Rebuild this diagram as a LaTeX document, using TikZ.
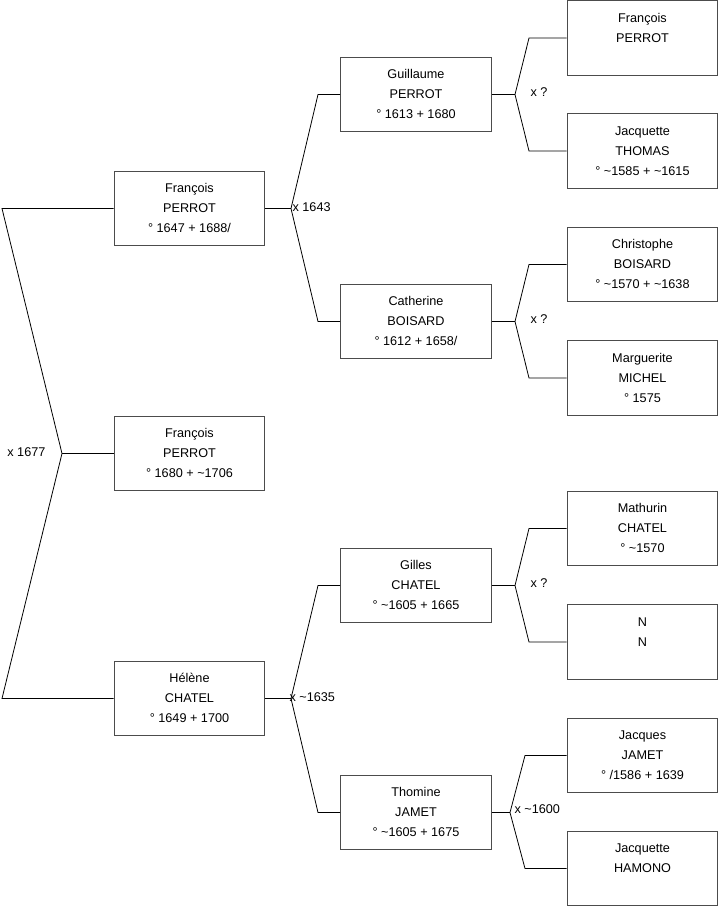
\documentclass[tikz,border=0pt]{standalone}
\usepackage{fontspec}
\setmainfont{Liberation Sans}

\newcommand{\pers}[3]{\strut#1\\\strut#2\\\strut#3}

\begin{document}
\begin{tikzpicture}[
  x=0.75pt, y=-0.75pt,
  every node/.style={font=\fontsize{9.5}{15}\selectfont},
  person/.style={draw=black!70,line width=0.7pt,fill=white,
    minimum width=113pt,minimum height=56pt,align=center,inner sep=0pt},
  link/.style={draw,line width=0.6pt},
  union/.style={inner sep=1pt}
]
  \useasboundingbox (0,0) rectangle (719,908);

  % first generation
  \node[person] (fp1) at (189.5,208.5) {\pers{François}{PERROT}{° 1647 + 1688/}};
  \node[person] (fp2) at (189.5,453.5) {\pers{François}{PERROT}{° 1680 + \textasciitilde1706}};
  \node[person] (hc)  at (189.5,698.5) {\pers{Hélène}{CHATEL}{° 1649 + 1700}};

  % parents
  \node[person] (gp) at (416,94.5)  {\pers{Guillaume}{PERROT}{° 1613 + 1680}};
  \node[person] (cb) at (416,321.5) {\pers{Catherine}{BOISARD}{° 1612 + 1658/}};
  \node[person] (gc) at (416,585.5) {\pers{Gilles}{CHATEL}{° \textasciitilde1605 + 1665}};
  \node[person] (tj) at (416,812.5) {\pers{Thomine}{JAMET}{° \textasciitilde1605 + 1675}};

  % grandparents
  \node[person] (fp0) at (642.5,38)    {\pers{François}{PERROT}{}};
  \node[person] (jt)  at (642.5,151)   {\pers{Jacquette}{THOMAS}{° \textasciitilde1585 + \textasciitilde1615}};
  \node[person] (cbo) at (642.5,264.5) {\pers{Christophe}{BOISARD}{° \textasciitilde1570 + \textasciitilde1638}};
  \node[person] (mm)  at (642.5,378)   {\pers{Marguerite}{MICHEL}{° 1575}};
  \node[person] (mc)  at (642.5,528.5) {\pers{Mathurin}{CHATEL}{° \textasciitilde1570}};
  \node[person] (nn)  at (642.5,642)   {\pers{N}{N}{}};
  \node[person] (jj)  at (642.5,755.5) {\pers{Jacques}{JAMET}{° /1586 + 1639}};
  \node[person] (jh)  at (642.5,868.5) {\pers{Jacquette}{HAMONO}{}};

  % root fork
  \coordinate (r1) at (2,208.5);
  \coordinate (r2) at (2,698.5);
  \coordinate (r0) at (62,453.5);
  \draw[link] (fp1.west) -- (r1) -- (r0) -- (r2) -- (hc.west);
  \draw[link] (r0) -- (fp2.west);
  \node[union,anchor=east] (u0) at (47,452) {x 1677};

  % forks to the parents
  \coordinate (a0) at (291,208.5);
  \draw[link] (fp1.east) -- (a0);
  \draw[link] (gp.west) -- (318,94.5) -- (a0) -- (318,321.5) -- (cb.west);
  \node[union,anchor=west] (u1) at (291,207) {x 1643};

  \coordinate (b0) at (291,698.5);
  \draw[link] (hc.east) -- (b0);
  \draw[link] (gc.west) -- (318,585.5) -- (b0) -- (318,812.5) -- (tj.west);
  \node[union,anchor=west] (u2) at (288,697) {x \textasciitilde1635};

  % forks to the grandparents
  \coordinate (c1) at (515,94.5);
  \draw[link] (gp.east) -- (c1);
  \draw[link] (fp0.west) -- (529,38) -- (c1) -- (529,151) -- (jt.west);
  \node[union,anchor=west] (u3) at (529,92) {x ?};

  \coordinate (c2) at (515,321.5);
  \draw[link] (cb.east) -- (c2);
  \draw[link] (cbo.west) -- (529,264.5) -- (c2) -- (529,378) -- (mm.west);
  \node[union,anchor=west] (u4) at (529,319) {x ?};

  \coordinate (c3) at (515,585.5);
  \draw[link] (gc.east) -- (c3);
  \draw[link] (mc.west) -- (529,528.5) -- (c3) -- (529,642) -- (nn.west);
  \node[union,anchor=west] (u5) at (529,583) {x ?};

  \coordinate (c4) at (510,812.5);
  \draw[link] (tj.east) -- (c4);
  \draw[link] (jj.west) -- (525,755.5) -- (c4) -- (525,868.5) -- (jh.west);
  \node[union,anchor=west] (u6) at (513,809) {x \textasciitilde1600};
\end{tikzpicture}
\end{document}
